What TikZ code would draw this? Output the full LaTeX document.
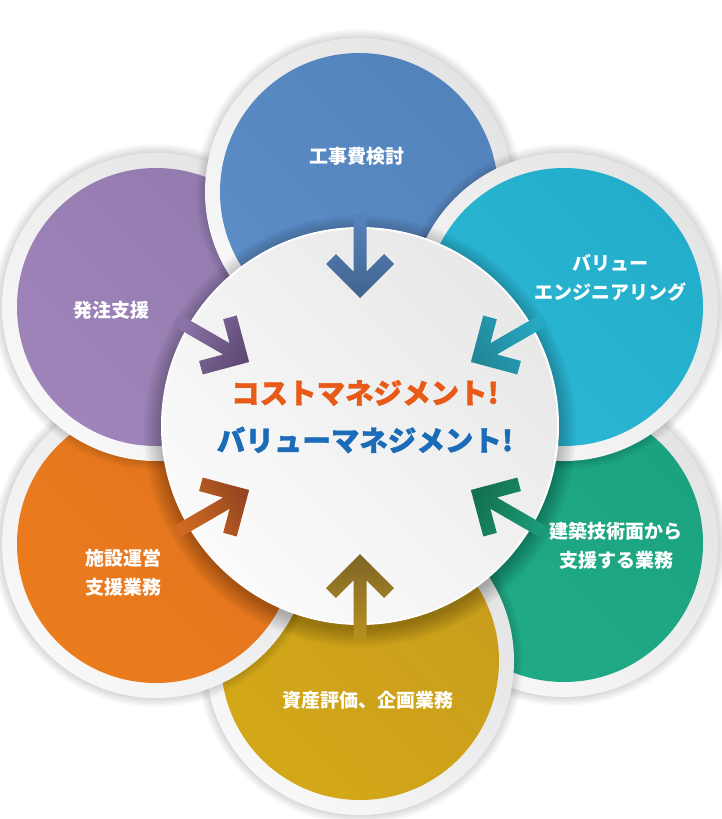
\documentclass[tikz,border=0pt]{standalone}
\usepackage{fontspec}
\newfontfamily\jp{Noto Sans CJK JP}
\newfontfamily\jpt{Noto Sans CJK JP}[BoldFeatures={FakeBold=1.2}]
\definecolor{ringA}{HTML}{E4E4E4}
\definecolor{ringB}{HTML}{F8F8F8}
\definecolor{cenA}{HTML}{E8E8E8}
\definecolor{cenB}{HTML}{FBFBFB}
\definecolor{bluA}{HTML}{5383BD}\definecolor{bluB}{HTML}{5C8DC6}
\definecolor{purA}{HTML}{927AAE}\definecolor{purB}{HTML}{9F84BA}
\definecolor{cyaA}{HTML}{22AECB}\definecolor{cyaB}{HTML}{2CB8D5}
\definecolor{grnA}{HTML}{1AA37E}\definecolor{grnB}{HTML}{20AB86}
\definecolor{golA}{HTML}{C89D1C}\definecolor{golB}{HTML}{D3A818}
\definecolor{oraA}{HTML}{E2731F}\definecolor{oraB}{HTML}{EB7C1D}
\definecolor{bluT}{HTML}{41648D}\definecolor{bluS}{HTML}{5783BD}
\definecolor{cyaT}{HTML}{228797}\definecolor{cyaS}{HTML}{26A9C4}
\definecolor{grnT}{HTML}{14704F}\definecolor{grnS}{HTML}{1C9A77}
\definecolor{golT}{HTML}{7E6427}\definecolor{golS}{HTML}{B8921F}
\definecolor{oraT}{HTML}{964621}\definecolor{oraS}{HTML}{D06A22}
\definecolor{purT}{HTML}{5E4A74}\definecolor{purS}{HTML}{8C74A8}
\definecolor{ttlO}{HTML}{E85A17}
\definecolor{ttlB}{HTML}{1B6BB8}
\tikzset{
  lbl/.style={text=white, font=\jp\bfseries\fontsize{19pt}{29pt}\selectfont, align=center, inner sep=0pt},
  ttl/.style={font=\jpt\bfseries\fontsize{28.5pt}{32pt}\selectfont, inner sep=0pt},
}
\newcommand\petal[5]{%
  \foreach \k in {1,...,6} {\fill[black,opacity=0.022] (#1,#2) circle ({154pt+\k*1.5pt});}
  \shade[top color=ringA, bottom color=ringB, shading angle=-45] (#1,#2) circle (154pt);
  \shade[top color=#3, bottom color=#4, shading angle=#5] (#1,#2) circle (139pt);
}
\newcommand\inarrow[4]{%
  \begin{scope}[shift={(C)}, rotate=#1]
    \shade[top color=#3, bottom color=#2, shading angle=#4]
      (128,0) -- (162,34) -- (171.9,24.1) -- (154.3,6.5) -- (213,6.5) -- (213,-6.5)
      -- (154.3,-6.5) -- (171.9,-24.1) -- (162,-34) -- cycle;
  \end{scope}}
\begin{document}
\begin{tikzpicture}[x=1pt,y=-1pt]
\useasboundingbox (0,0) rectangle (721,819);
\fill[white] (0,0) rectangle (721,819);
\coordinate (C) at (360,426);
% outer petals, bottom-most first
\petal{564}{543}{grnA}{grnB}{-45}
\petal{360}{661}{golA}{golB}{-45}
\petal{156}{544}{oraA}{oraB}{-45}
\petal{156}{307}{purA}{purB}{-45}
\petal{359}{192}{bluA}{bluB}{-45}
\petal{564}{307}{cyaA}{cyaB}{-45}
\node[lbl] (t1) at (357,156) {工事費検討};
\node[lbl] (t2) at (111,310) {発注支援};
\node[lbl] (t3) at (610,277.5) {バリュー\\エンジニアリング};
\node[lbl] (t4) at (123,572.5) {施設運営\\支援業務};
\node[lbl] (t5) at (616,546) {建築技術面から\\支援する業務};
\node[lbl] (t6) at (368,700) {資産評価、企画業務};
% central shadow
\foreach \k in {1,...,12} {\fill[black,opacity=0.024] (360,431) circle ({197pt+\k*1.6pt});}
\fill[white] (C) circle (199pt);
\shade[top color=cenA, bottom color=cenB, shading angle=-45] (C) circle (197pt);
% arrows
\inarrow{90}{bluT}{bluS}{0}
\inarrow{30}{cyaT}{cyaS}{-60}
\inarrow{-30}{grnT}{grnS}{-120}
\inarrow{-90}{golT}{golS}{180}
\inarrow{210}{oraT}{oraS}{120}
\inarrow{150}{purT}{purS}{60}
% title
\node[ttl, text=ttlO] (h1) at (365,393) {コストマネジメント!};
\node[ttl, text=ttlB] (h2) at (365,440) {バリューマネジメント!};
\end{tikzpicture}
\end{document}
